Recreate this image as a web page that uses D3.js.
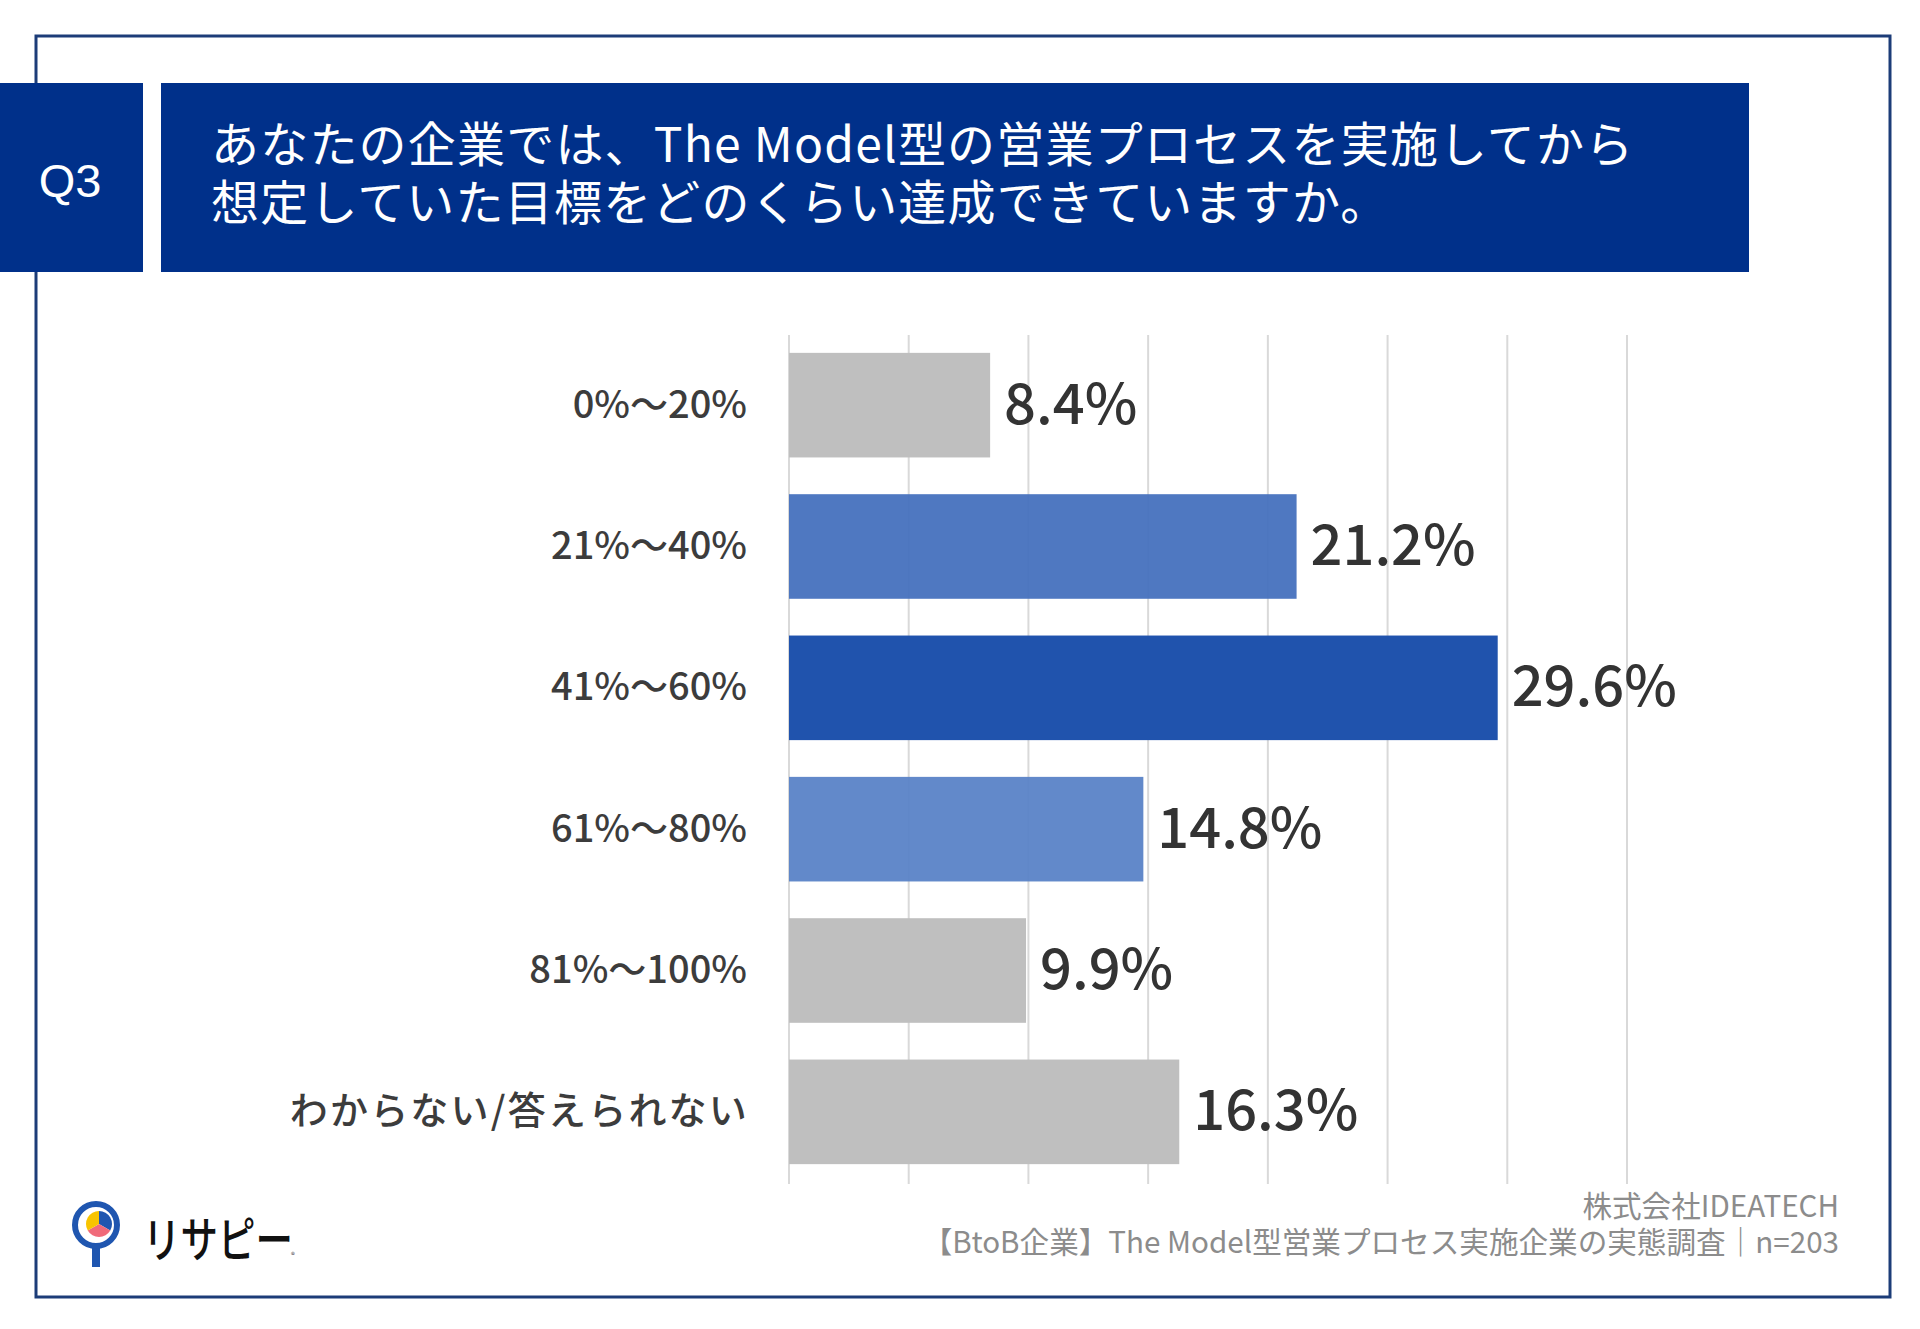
<!DOCTYPE html>
<html>
<head>
<meta charset="utf-8">
<script src="https://cdn.jsdelivr.net/npm/d3@7"></script>
<style>
  html, body { margin: 0; padding: 0; background: #fff; }
  svg { display: block; }
</style>
</head>
<body>
<svg id="chart"></svg>
<script>
// data
const categories = ["0%〜20%", "21%〜40%", "41%〜60%", "61%〜80%", "81%〜100%", "わからない/答えられない"];
const values = [8.4, 21.2, 29.6, 14.8, 9.9, 16.3];
const barColors = ["#bfbfbf", "#4671be", "#2053ad", "#5a83c7", "#bfbfbf", "#bfbfbf"];
const titleLines = ["あなたの企業では、The Model型の営業プロセスを実施してから", "想定していた目標をどのくらい達成できていますか。"];
const footerLines = ["株式会社IDEATECH", "【BtoB企業】The Model型営業プロセス実施企業の実態調査｜n=203"];

var width = 1920, height = 1329;
var navy = "#00308a";
var jp = "'Noto Sans CJK JP', 'Noto Sans', sans-serif";

var svg = d3.select("#chart")
    .attr("width", width)
    .attr("height", height);

// outer frame
svg.append("rect")
    .attr("x", 36).attr("y", 36)
    .attr("width", 1854).attr("height", 1261)
    .attr("fill", "none")
    .attr("stroke", "#1c3c78")
    .attr("stroke-width", 3);

// header boxes
svg.append("rect")
    .attr("x", 0).attr("y", 83)
    .attr("width", 143).attr("height", 189)
    .attr("fill", navy);
svg.append("text")
    .attr("x", 70).attr("y", 180)
    .attr("text-anchor", "middle")
    .attr("dominant-baseline", "central")
    .attr("font-family", "'Liberation Sans', Arial, sans-serif")
    .attr("font-size", 47)
    .attr("fill", "#fff")
    .text("Q3");

svg.append("rect")
    .attr("x", 161).attr("y", 83)
    .attr("width", 1588).attr("height", 189)
    .attr("fill", navy);
svg.append("text")
    .attr("font-family", jp)
    .attr("font-size", 48)
    .attr("letter-spacing", 1.2)
    .attr("fill", "#fff")
    .selectAll("tspan")
    .data(titleLines)
    .enter()
    .append("tspan")
    .attr("x", 211)
    .attr("y", (d, i) => 162 + i * 58)
    .text(d => d);

// scales
var x = d3.scaleLinear()
    .domain([0, 35])
    .range([789, 1627]);

var y = d3.scaleBand()
    .domain(categories)
    .range([326, 1191])
    .paddingInner(0.26)
    .paddingOuter(0.19);

// gridlines
svg.append("g").selectAll("line")
    .data(x.ticks(7))
    .enter()
    .append("line")
    .attr("x1", d => x(d)).attr("x2", d => x(d))
    .attr("y1", 335).attr("y2", 1184)
    .attr("stroke", "#d9d9d9")
    .attr("stroke-width", 2);

// bars
svg.append("g").selectAll("rect")
    .data(values)
    .enter()
    .append("rect")
    .attr("x", x(0))
    .attr("y", (d, i) => y(categories[i]))
    .attr("width", d => x(d) - x(0))
    .attr("height", y.bandwidth())
    .attr("fill", (d, i) => barColors[i])
    .attr("fill-opacity", (d, i) => (i === 1 || i === 3) ? 0.95 : 1);

// value labels
svg.append("g").selectAll("text")
    .data(values)
    .enter()
    .append("text")
    .attr("x", d => x(d) + 14)
    .attr("y", (d, i) => y(categories[i]) + y.bandwidth() / 2 - 6)
    .attr("dominant-baseline", "central")
    .attr("font-family", jp)
    .attr("font-weight", 500)
    .attr("font-size", 56)
    .attr("fill", "#333")
    .text(d => d3.format(".1f")(d) + "%");

// category labels
svg.append("g").selectAll("text")
    .data(categories)
    .enter()
    .append("text")
    .attr("x", d => /[ぁ-ん]/.test(d) ? 749 : 747)
    .attr("y", d => y(d) + y.bandwidth() / 2 - 4)
    .attr("text-anchor", "end")
    .attr("dominant-baseline", "central")
    .attr("font-family", jp)
    .attr("font-weight", 500)
    .attr("font-size", 38)
    .attr("letter-spacing", d => /[ぁ-ん]/.test(d) ? 2.2 : 0)
    .attr("fill", "#3c3c3c")
    .text(d => d);

// footer
svg.append("text")
    .attr("text-anchor", "end")
    .attr("font-family", jp)
    .attr("font-size", 29.6)
    .attr("fill", "#8c8c8c")
    .selectAll("tspan")
    .data(footerLines)
    .enter()
    .append("tspan")
    .attr("x", 1839)
    .attr("y", (d, i) => 1217 + i * 36)
    .text(d => d);

// logo
var logo = svg.append("g");
logo.append("rect")
    .attr("x", 92).attr("y", 1246)
    .attr("width", 8).attr("height", 21)
    .attr("fill", "#1f56b0");
logo.append("circle")
    .attr("cx", 96).attr("cy", 1225)
    .attr("r", 21)
    .attr("fill", "#fff")
    .attr("stroke", "#1f56b0")
    .attr("stroke-width", 6);
var pieColors = ["#1f56b0", "#f06a7a", "#f8c400"];
var pie = d3.pie().sort(null).startAngle(0).endAngle(2 * Math.PI);
var arc = d3.arc().innerRadius(0).outerRadius(13);
logo.append("g")
    .attr("transform", "translate(99,1224)")
    .selectAll("path")
    .data(pie([1, 1, 1]))
    .enter()
    .append("path")
    .attr("d", arc)
    .attr("fill", (d, i) => pieColors[i]);
logo.append("text")
    .attr("x", 143).attr("y", 1257)
    .attr("font-family", jp)
    .attr("font-weight", 500)
    .attr("font-size", 48)
    .attr("textLength", 150)
    .attr("lengthAdjust", "spacingAndGlyphs")
    .attr("fill", "#111")
    .text("リサピー");
logo.append("text")
    .attr("x", 291).attr("y", 1258)
    .attr("font-family", jp)
    .attr("font-size", 8)
    .attr("fill", "#444")
    .text("®");
</script>
</body>
</html>
